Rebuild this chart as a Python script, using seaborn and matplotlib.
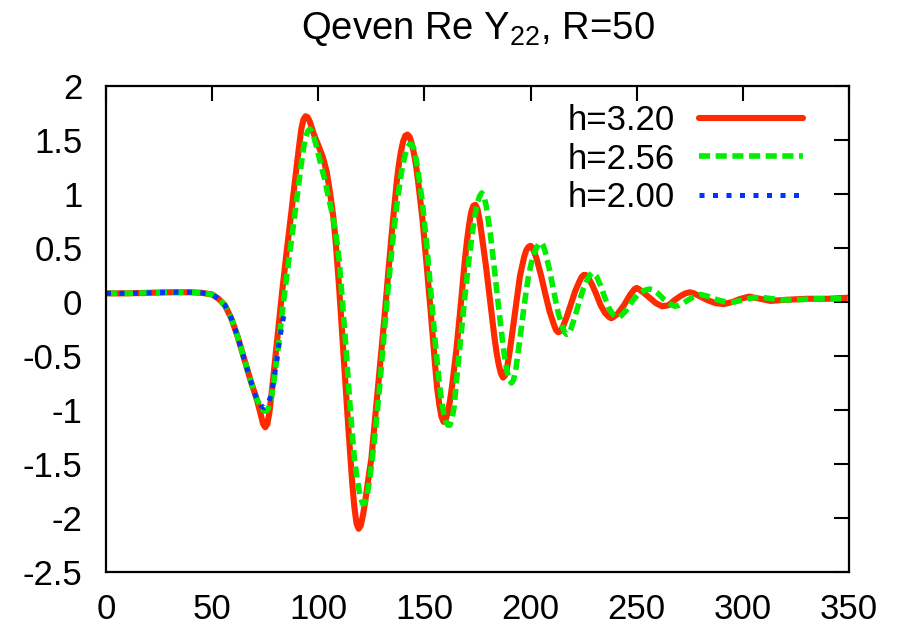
import matplotlib
matplotlib.use("Agg")
import matplotlib.pyplot as plt
import seaborn as sns

# ---- data ----
x_h320 = [0, 10, 20, 30, 40, 45, 50, 53, 56, 59, 62, 65, 68, 71, 73, 74, 75, 76, 77, 78, 79, 80, 81, 82, 83, 85,
          87, 89, 91, 92, 93, 94, 95, 96, 97, 98, 99, 100, 101, 102, 103, 104, 105, 106, 107, 108, 109, 110,
          111, 112, 113, 114, 115, 116, 117, 118, 119, 120, 121, 122, 123, 124, 125, 127, 129, 131, 133, 135,
          137, 138, 139, 140, 141, 142, 143, 144, 145, 146, 147, 149, 151, 153, 155, 156, 157, 158, 159, 160,
          161, 162, 163, 165, 167, 169, 170, 171, 172, 173, 174, 175, 176, 177, 179, 181, 183, 184, 185, 186,
          187, 188, 189, 190, 191, 193, 195, 197, 198, 199, 200, 201, 202, 203, 205, 207, 209, 211, 212, 213,
          214, 215, 217, 219, 221, 223, 224, 225, 226, 227, 229, 231, 233, 235, 237, 238, 239, 241, 244, 247,
          249, 250, 251, 253, 256, 259, 262, 265, 268, 271, 273, 275, 277, 279, 283, 287, 291, 295, 299, 303,
          308, 313, 320, 330, 340, 350]
y_h320 = [0.08, 0.08, 0.085, 0.09, 0.09, 0.085, 0.07, 0.03, -0.03, -0.15, -0.32, -0.52, -0.72, -0.90, -1.05,
          -1.13, -1.16, -1.13, -1.02, -0.85, -0.66, -0.47, -0.28, -0.09, 0.10, 0.45, 0.78, 1.12, 1.45, 1.60,
          1.69, 1.72, 1.71, 1.67, 1.61, 1.55, 1.50, 1.45, 1.40, 1.35, 1.28, 1.20, 1.08, 0.95, 0.80, 0.60, 0.35,
          0.08, -0.22, -0.52, -0.82, -1.12, -1.40, -1.68, -1.90, -2.05, -2.10, -2.07, -1.98, -1.86, -1.72,
          -1.58, -1.45, -1.03, -0.62, -0.18, 0.28, 0.72, 1.12, 1.28, 1.40, 1.49, 1.54, 1.55, 1.53, 1.47, 1.38,
          1.27, 1.12, 0.78, 0.35, -0.10, -0.58, -0.80, -0.95, -1.06, -1.11, -1.09, -1.02, -0.92, -0.78, -0.45,
          -0.05, 0.38, 0.56, 0.71, 0.83, 0.89, 0.90, 0.86, 0.76, 0.62, 0.33, 0.00, -0.33, -0.47, -0.58, -0.66,
          -0.70, -0.68, -0.60, -0.48, -0.34, -0.05, 0.24, 0.42, 0.48, 0.51, 0.52, 0.50, 0.45, 0.39, 0.24, 0.07,
          -0.09, -0.21, -0.26, -0.28, -0.27, -0.24, -0.14, -0.02, 0.10, 0.19, 0.23, 0.25, 0.25, 0.23, 0.16,
          0.07, -0.03, -0.10, -0.14, -0.15, -0.14, -0.11, -0.03, 0.07, 0.12, 0.13, 0.12, 0.09, 0.04, -0.01,
          -0.04, -0.03, 0.02, 0.06, 0.08, 0.09, 0.08, 0.06, 0.02, -0.01, -0.02, 0.00, 0.03, 0.05, 0.03, 0.01,
          0.02, 0.03, 0.03, 0.04]

x_h256 = [0, 10, 20, 30, 40, 45, 50, 53, 56, 59, 62, 65, 68, 71, 73, 74, 75, 76, 77, 78, 79, 80, 81, 82, 83, 85,
          87, 89, 91, 92, 93, 94, 95, 96, 97, 98, 99, 100, 101, 102, 103, 104, 105, 106, 107, 108, 109, 110,
          111, 112, 113, 114, 115, 116, 117, 118, 119, 120, 121, 122, 123, 124, 125, 127, 129, 131, 133, 135,
          137, 139, 140, 141, 142, 143, 144, 145, 146, 147, 149, 151, 153, 155, 157, 158, 159, 160, 161, 162,
          163, 164, 165, 167, 169, 171, 173, 174, 175, 176, 177, 178, 179, 181, 183, 185, 187, 188, 189, 190,
          191, 192, 193, 195, 197, 199, 201, 203, 204, 205, 206, 207, 209, 211, 213, 215, 216, 217, 218, 219,
          221, 223, 225, 227, 228, 229, 230, 231, 233, 235, 237, 239, 241, 242, 245, 248, 251, 254, 256, 258,
          260, 263, 266, 268, 270, 272, 276, 280, 284, 288, 292, 296, 300, 305, 310, 318, 325, 335, 350]
y_h256 = [0.08, 0.08, 0.085, 0.09, 0.09, 0.085, 0.07, 0.03, -0.03, -0.15, -0.32, -0.52, -0.72, -0.90, -0.97,
          -1.00, -1.01, -1.00, -0.96, -0.87, -0.75, -0.60, -0.44, -0.27, -0.10, 0.22, 0.52, 0.82, 1.13, 1.28,
          1.42, 1.52, 1.58, 1.60, 1.58, 1.52, 1.45, 1.37, 1.29, 1.21, 1.14, 1.04, 0.95, 0.87, 0.77, 0.67, 0.53,
          0.35, 0.10, -0.15, -0.41, -0.70, -0.97, -1.22, -1.45, -1.60, -1.72, -1.82, -1.87, -1.86, -1.79,
          -1.67, -1.52, -1.18, -0.76, -0.30, 0.15, 0.55, 0.90, 1.18, 1.29, 1.37, 1.43, 1.46, 1.46, 1.42, 1.33,
          1.21, 0.93, 0.55, 0.10, -0.35, -0.75, -0.90, -1.02, -1.10, -1.14, -1.14, -1.08, -0.97, -0.75, -0.36,
          0.04, 0.40, 0.70, 0.82, 0.92, 0.98, 1.01, 0.98, 0.90, 0.64, 0.30, -0.06, -0.40, -0.54, -0.65, -0.72,
          -0.75, -0.72, -0.63, -0.34, -0.03, 0.24, 0.42, 0.51, 0.54, 0.55, 0.52, 0.46, 0.29, 0.09, -0.10, -0.23,
          -0.28, -0.30, -0.29, -0.25, -0.13, 0.01, 0.13, 0.22, 0.25, 0.27, 0.26, 0.24, 0.15, 0.04, -0.06, -0.12,
          -0.14, -0.14, -0.08, 0.01, 0.08, 0.11, 0.12, 0.11, 0.08, 0.02, -0.02, -0.04, -0.03, -0.01, 0.04, 0.07,
          0.05, 0.02, 0.00, 0.00, 0.02, 0.04, 0.04, 0.02, 0.02, 0.03, 0.03]

x_h200 = [0, 10, 20, 30, 40, 45, 50, 53, 56, 59, 62, 65, 68, 71, 73, 74.5, 76, 78, 80, 82, 84]
y_h200 = [0.08, 0.08, 0.085, 0.09, 0.09, 0.085, 0.07, 0.03, -0.03, -0.15, -0.32, -0.52, -0.72, -0.90, -0.96,
          -0.98, -0.96, -0.85, -0.60, -0.32, -0.10]

labels = ["h=3.20", "h=2.56", "h=2.00"]
x_ticks = [0, 50, 100, 150, 200, 250, 300, 350]
x_tick_labels = ["0", "50", "100", "150", "200", "250", "300", "350"]
y_ticks = [-2.5, -2, -1.5, -1, -0.5, 0, 0.5, 1, 1.5, 2]
y_tick_labels = ["-2.5", "-2", "-1.5", "-1", "-0.5", "0", "0.5", "1", "1.5", "2"]
title = "Qeven Re Y$_{22}$, R=50"

# ---- styling ----
sns.set_style("white")
plt.rcParams["font.family"] = ["Liberation Sans", "DejaVu Sans"]
plt.rcParams["mathtext.default"] = "regular"
plt.rcParams["text.color"] = "black"
FS = 25

fig = plt.figure(figsize=(8.98, 6.25), dpi=100)
ax = fig.add_axes([106 / 898, 1 - 572 / 625, (849 - 106) / 898, (572 - 86) / 625])

sns.lineplot(x=x_h320, y=y_h320, ax=ax, color="#ff2a00", lw=4.4, label=labels[0],
             solid_capstyle="round", solid_joinstyle="round")
sns.lineplot(x=x_h256, y=y_h256, ax=ax, color="#00ee00", lw=4.0, label=labels[1],
             linestyle=(0, (2.0, 1.0)))
sns.lineplot(x=x_h200, y=y_h200, ax=ax, color="#0033ff", lw=3.6, label=labels[2],
             linestyle=(0, (1.0, 1.7)))

ax.set_xlim(0, 350)
ax.set_ylim(-2.5, 2)
ax.set_xticks(x_ticks)
ax.set_xticklabels(x_tick_labels)
ax.set_yticks(y_ticks)
ax.set_yticklabels(y_tick_labels)
ax.set_xlabel("")
ax.set_ylabel("")
ax.tick_params(axis="both", direction="in", length=11, width=1.5, labelsize=FS,
               top=True, right=True, colors="black")
ax.tick_params(axis="y", pad=17)
ax.tick_params(axis="x", pad=15)
for s in ax.spines.values():
    s.set_visible(True)
    s.set_linewidth(1.6)
    s.set_color("black")

ax.set_title(title, fontsize=27.5, pad=34, color="black")

leg = ax.legend(loc="upper right", bbox_to_anchor=(803 / 898, 1 - 104 / 625),
                bbox_transform=fig.transFigure, frameon=False, fontsize=FS,
                markerfirst=False, handlelength=3.0, handletextpad=0.7,
                labelspacing=0.16, borderpad=0, borderaxespad=0)
for t in leg.get_texts():
    t.set_color("black")

fig.savefig("out.png", dpi=100)
